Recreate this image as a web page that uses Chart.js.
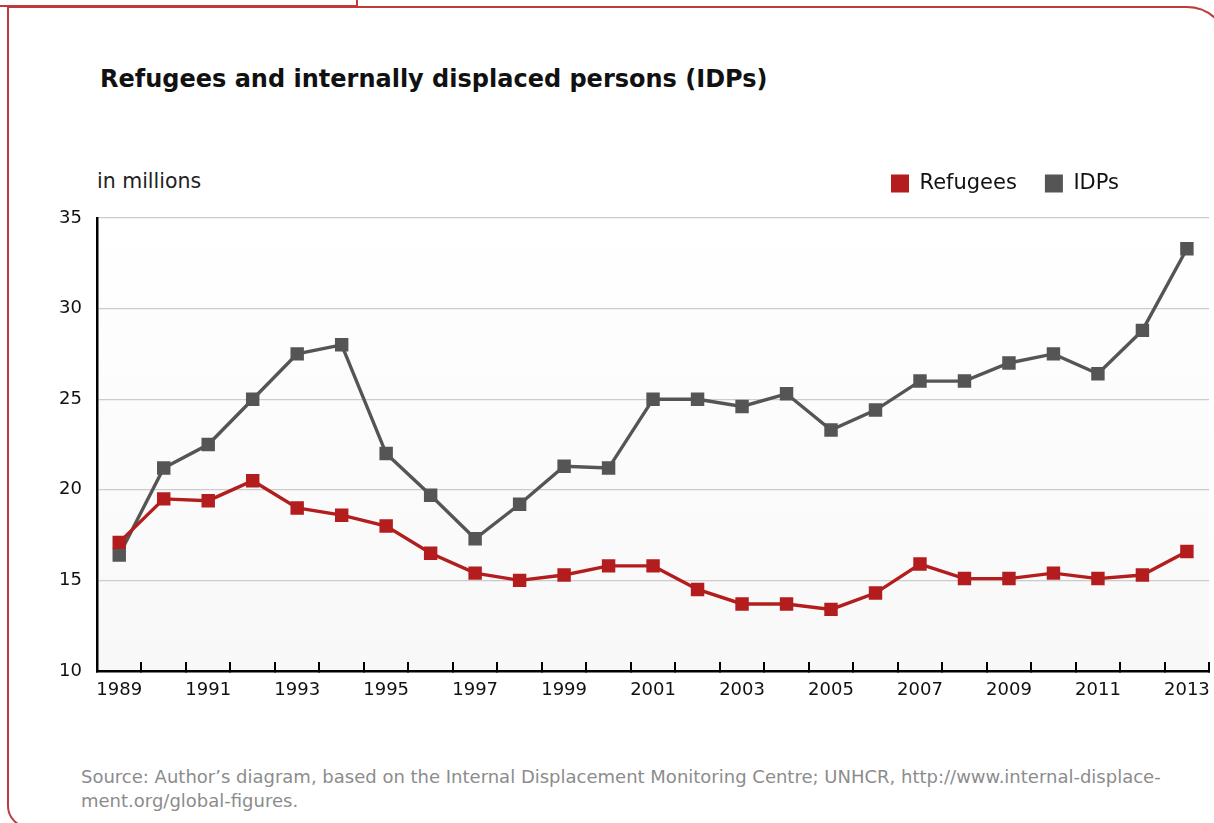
<!DOCTYPE html>
<html>
<head>
<meta charset="utf-8">
<script src="https://cdn.jsdelivr.net/npm/chart.js@4.4.0/dist/chart.umd.min.js"></script>
<style>
  body { margin:0; width:1214px; height:823px; overflow:hidden; background:#fff; position:relative; font-family: "DejaVu Sans", sans-serif; }
  #frame { position:absolute; left:7px; top:6px; width:1222px; height:822px; border:2px solid #bd3b3b; border-top-right-radius:42px; border-bottom-left-radius:22px; box-sizing:border-box; }
  #tab { position:absolute; left:-4px; top:-12px; width:362px; height:19px; border-right:2px solid #bd3b3b; border-bottom:2px solid #bd3b3b; box-sizing:border-box; }
  #title { position:absolute; left:100px; top:65px; font-weight:bold; font-size:24px; color:#111; }
  #unit { position:absolute; left:97px; top:169px; font-size:20.5px; color:#222; }
  #source { position:absolute; left:81px; top:765px; font-size:18px; line-height:24px; color:#8c8c8c; }
  #wrap { position:absolute; left:0; top:150px; width:1228px; height:560px; }
</style>
</head>
<body>
<div id="tab"></div>
<div id="frame"></div>
<div id="title">Refugees and internally displaced persons (IDPs)</div>
<div id="unit">in millions</div>
<div id="wrap"><canvas id="chart"></canvas></div>
<div id="source">Source: Author’s diagram, based on the Internal Displacement Monitoring Centre; UNHCR, http://www.internal-displace-<br>ment.org/global-figures.</div>
<script>
// values, in millions
var years = ["1989", "1990", "1991", "1992", "1993", "1994", "1995", "1996", "1997", "1998", "1999", "2000", "2001",
             "2002", "2003", "2004", "2005", "2006", "2007", "2008", "2009", "2010", "2011", "2012", "2013"];
var refugees = [17.1, 19.5, 19.4, 20.5, 19.0, 18.6, 18.0, 16.5, 15.4, 15.0, 15.3, 15.8, 15.8,
                14.5, 13.7, 13.7, 13.4, 14.3, 15.9, 15.1, 15.1, 15.4, 15.1, 15.3, 16.6];
var idps = [16.4, 21.2, 22.5, 25.0, 27.5, 28.0, 22.0, 19.7, 17.3, 19.2, 21.3, 21.2, 25.0,
            25.0, 24.6, 25.3, 23.3, 24.4, 26.0, 26.0, 27.0, 27.5, 26.4, 28.8, 33.3];
var yMin = 10, yMax = 35, yStep = 5;

var red = "#b31d1d";
var grey = "#555555";

Chart.defaults.font.family = "DejaVu Sans";

// soft grey fade in the plot area
var plotBg = {
  id: "plotBg",
  beforeDraw: function (chart) {
    var a = chart.chartArea;
    var ctx = chart.ctx;
    var g = ctx.createLinearGradient(0, a.top, 0, a.bottom);
    g.addColorStop(0, "#ffffff");
    g.addColorStop(1, "#f8f8f8");
    ctx.save();
    ctx.fillStyle = g;
    ctx.fillRect(a.left, a.top, a.right - a.left, a.bottom - a.top);
    ctx.restore();
  }
};

// legend sits left of the right edge in the original
var legendMove = {
  id: "legendMove",
  afterLayout: function (chart) {
    var l = chart.legend;
    l.left -= 75; l.right -= 75;
    l.top -= 14; l.bottom -= 14;
  }
};

new Chart("chart", {
  type: "line",
  data: {
    labels: years,
    datasets: [
      {
        label: "Refugees",
        data: refugees,
        borderColor: red,
        backgroundColor: red,
        borderWidth: 3.4,
        pointStyle: "rect",
        pointRadius: 9.5,
        pointBorderWidth: 0,
        pointBackgroundColor: red,
      },
      {
        label: "IDPs",
        data: idps,
        borderColor: grey,
        backgroundColor: grey,
        borderWidth: 3.4,
        pointStyle: "rect",
        pointRadius: 9.5,
        pointBorderWidth: 0,
        pointBackgroundColor: grey,
      },
    ],
  },
  options: {
    responsive: true,
    maintainAspectRatio: false,
    animation: false,
    events: [],
    layout: { padding: { left: 0, right: 6, top: 9, bottom: 0 } },
    plugins: {
      tooltip: { enabled: false },
      title: { display: false },
      legend: {
        position: "top",
        align: "end",
        labels: {
          boxWidth: 18,
          boxHeight: 18,
          padding: 28,
          color: "#111",
          font: { size: 21 },
          generateLabels: function (chart) {
            var items = Chart.defaults.plugins.legend.labels.generateLabels(chart);
            items.forEach(function (it) { it.lineWidth = 0; });
            return items;
          },
        },
      },
    },
    scales: {
      x: {
        type: "category",
        offset: true,
        afterFit: function (s) { s.height = 39; },
        grid: {
          offset: true,
          drawOnChartArea: false,
          drawTicks: true,
          tickLength: -9,
          color: "#000",
          lineWidth: 2,
        },
        border: { display: true, color: "#000", width: 2.5 },
        ticks: {
          autoSkip: false,
          maxRotation: 0,
          padding: 18,
          color: "#111",
          font: { size: 18 },
          callback: function (val, i) {
            return i % 2 === 0 ? this.getLabelForValue(val) : "";
          },
        },
      },
      y: {
        min: yMin,
        max: yMax,
        afterFit: function (s) { s.width = 97; },
        grid: { color: "#cccccc", lineWidth: 1.3, drawTicks: false },
        border: { display: true, color: "#000", width: 2.5 },
        ticks: {
          stepSize: yStep,
          padding: 15,
          color: "#111",
          font: { size: 18 },
        },
      },
    },
  },
  plugins: [plotBg, legendMove],
});
</script>
</body>
</html>
